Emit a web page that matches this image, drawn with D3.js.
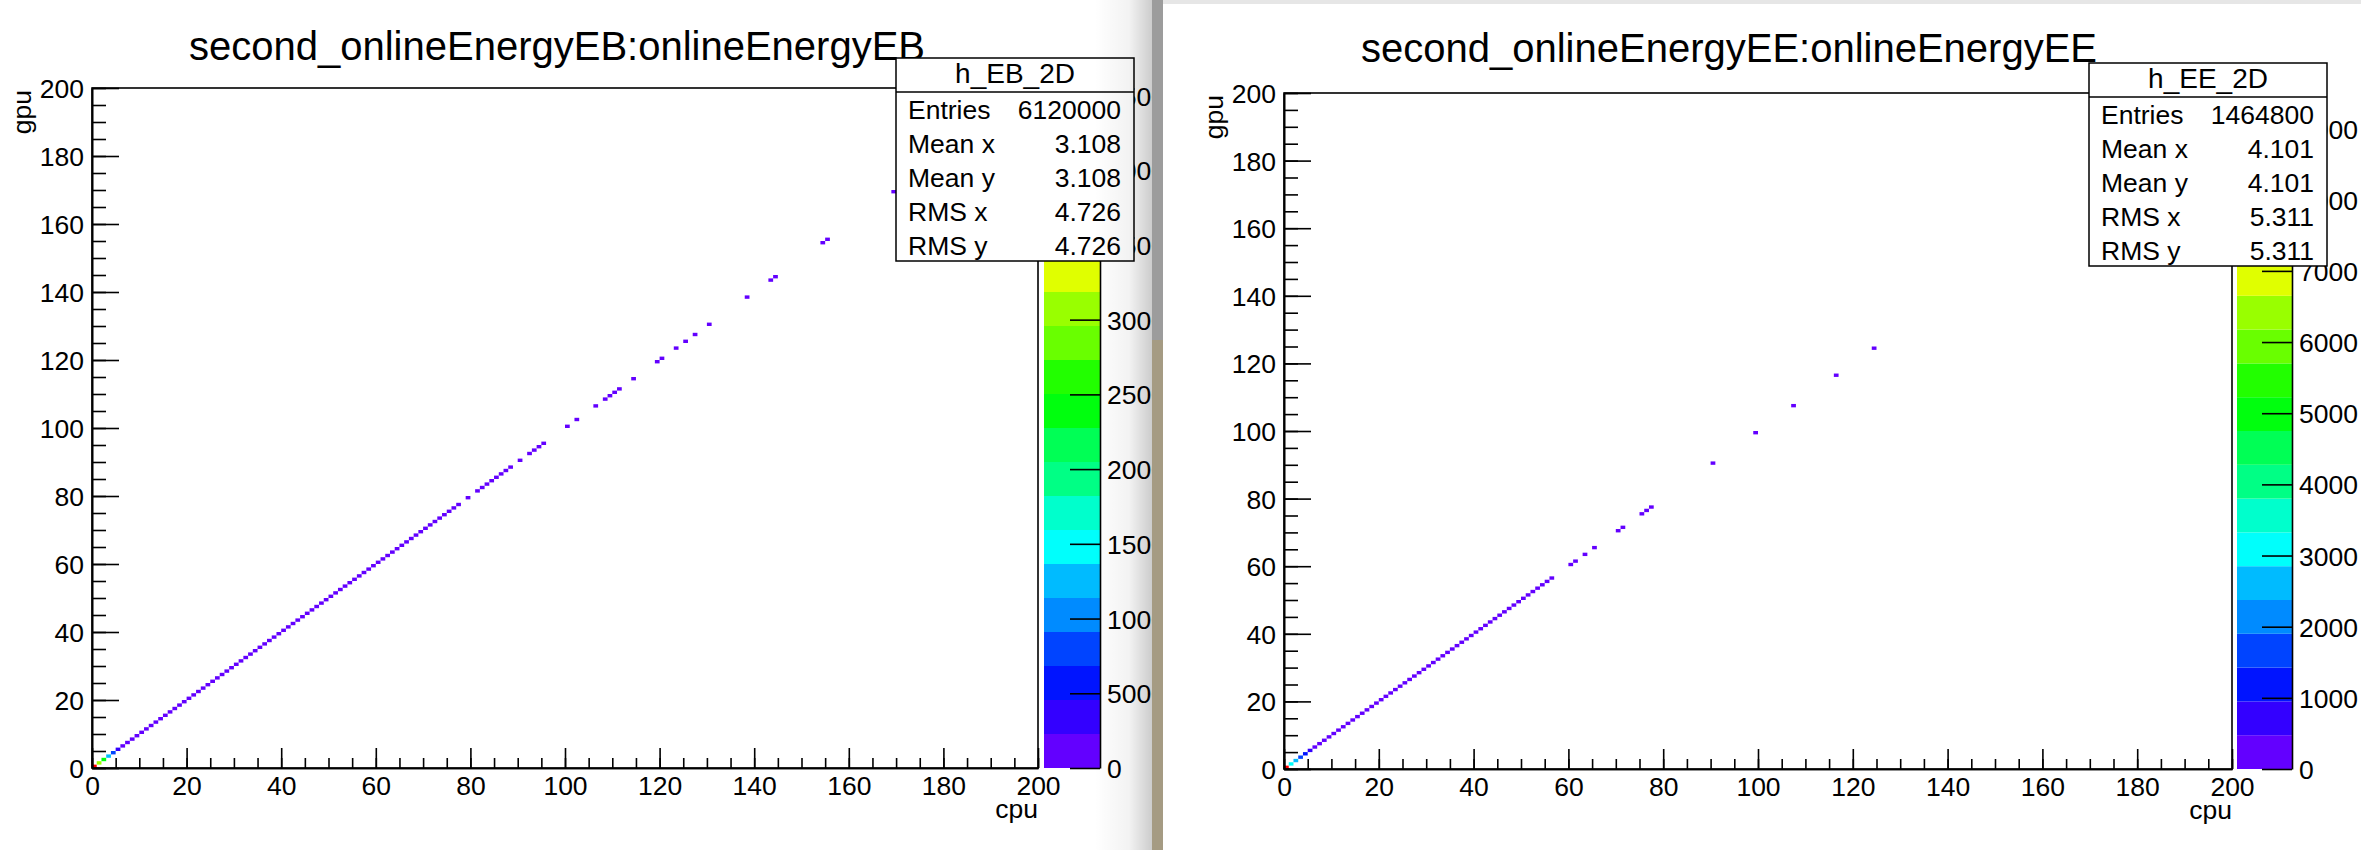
<!DOCTYPE html>
<html>
<head>
<meta charset="utf-8">
<script src="https://cdn.jsdelivr.net/npm/d3@7"></script>
<style>
body { margin: 0; background: #fff; }
text { font-family: "Liberation Sans", Arial, Helvetica, sans-serif; fill: #000; }
</style>
</head>
<body>
<svg id="canvas" width="2361" height="850"></svg>
<script>
// cells on the diagonal (cpu == gpu), lower bin edge, and their contents
const ebBins = [0,1,2,3,4,5,6,7,8,9,10,11,12,13,14,15,16,17,18,19,20,21,22,23,24,25,26,27,28,29,
  30,31,32,33,34,35,36,37,38,39,40,41,42,43,44,45,46,47,48,49,50,51,52,53,54,55,56,57,58,59,
  60,61,62,63,64,65,66,67,68,69,70,71,72,73,74,75,76,77,79,81,82,83,84,85,86,87,88,90,92,93,94,95,
  100,102,106,108,109,110,111,114,119,120,123,125,127,130,138,143,144,154,155,169];
const ebCounts = [45500,30000,24000,12000,7000,3000,
  1900,1600,1400,1200,1050,950,850,760,690,620,560,510,470,430,400,
  370,340,320,300,280,260,245,230,215,200,190,180,170,160,150,142,134,126,119,112,
  106,100,94,89,84,79,75,71,67,63,60,57,54,51,48,45,43,41,39,37,
  35,33,31,29,27,25,24,22,21,20,19,18,
  17,16,15,14,13,11,10,9,9,8,8,7,7,6,5,5,4,4,4,
  3,3,3,2,2,2,2,2,1,1,1,1,1,1,1,1,1,1,1,1];

const eeBins = [0,1,2,3,4,5,6,7,8,9,10,11,12,13,14,15,16,17,18,19,20,21,22,23,24,25,26,27,28,29,
  30,31,32,33,34,35,36,37,38,39,40,41,42,43,44,45,46,47,48,49,50,51,52,53,54,55,56,
  60,61,63,65,70,71,75,76,77,90,99,107,116,124];
const eeCounts = [9500,3300,2600,1800,1100,700,
  440,400,360,330,300,270,245,220,200,180,165,150,137,125,114,
  104,95,87,80,73,67,61,56,51,47,43,39,36,33,30,28,26,24,22,20,
  18,17,16,15,14,13,12,11,10,9,8,7,7,6,6,5,
  4,4,3,3,2,2,2,2,2,1,1,1,1,1];

const statLabels = ["Entries", "Mean x", "Mean y", "RMS x", "RMS y"];
const ebStats = ["6120000", "3.108", "3.108", "4.726", "4.726"];
const eeStats = ["1464800", "4.101", "4.101", "5.311", "5.311"];

const majorTicks = [0, 20, 40, 60, 80, 100, 120, 140, 160, 180, 200];
const minorTicks = d3.range(0, 201, 5);
const ebZTicks = [0, 5000, 10000, 15000, 20000, 25000, 30000, 35000, 40000, 45000];
const eeZTicks = [0, 1000, 2000, 3000, 4000, 5000, 6000, 7000, 8000, 9000];

// 20 contour colours, violet -> red
const palette = ["#6300ff","#3300ff","#0014ff","#0044ff","#008bff","#00bbff","#00fffc","#00ffcc",
  "#00ff85","#00ff55","#00ff0e","#22ff00","#69ff00","#99ff00","#e0ff00","#ffee00","#ffa700",
  "#ff7700","#ff3000","#ff0000"];

const svg = d3.select("#canvas");
svg.append("rect").attr("width", 2361).attr("height", 850).attr("fill", "#fff");

const defs = svg.append("defs");
defs.append("clipPath").attr("id", "leftWin")
  .append("rect").attr("x", 0).attr("y", 0).attr("width", 1152).attr("height", 850);
const grad = defs.append("linearGradient").attr("id", "shade")
  .attr("x1", 0).attr("x2", 1).attr("y1", 0).attr("y2", 0);
grad.append("stop").attr("offset", 0).attr("stop-color", "#000").attr("stop-opacity", 0);
grad.append("stop").attr("offset", 0.6).attr("stop-color", "#000").attr("stop-opacity", 0.05);
grad.append("stop").attr("offset", 1).attr("stop-color", "#000").attr("stop-opacity", 0.2);

function drawPanel(p) {
  const g = svg.append("g");
  if (p.clip) g.attr("clip-path", "url(#" + p.clip + ")");

  const x = d3.scaleLinear().domain([0, 200]).range([p.left, p.right]);
  const y = d3.scaleLinear().domain([0, 200]).range([p.bottom, p.top]);
  const z = d3.scaleQuantize().domain([0, p.zmax]).range(palette);

  // cells
  const cells = p.bins.map((b, i) => ({ b: b, c: p.counts[i] }));
  g.append("g").selectAll("rect")
    .data(cells)
    .enter()
    .append("rect")
    .attr("x", d => x(d.b))
    .attr("y", d => y(d.b + 1))
    .attr("width", d => x(d.b + 1) - x(d.b))
    .attr("height", d => y(d.b) - y(d.b + 1))
    .attr("fill", d => z(d.c));

  // frame
  g.append("rect")
    .attr("x", p.left).attr("y", p.top)
    .attr("width", p.right - p.left).attr("height", p.bottom - p.top)
    .attr("fill", "none").attr("stroke", "#000").attr("stroke-width", 1.6);

  // x axis, ticks pointing into the frame
  g.append("g").attr("transform", `translate(0,${p.bottom})`)
    .call(d3.axisBottom(x).tickValues(minorTicks).tickSize(-10).tickSizeOuter(0).tickFormat(""));
  const xa = g.append("g").attr("transform", `translate(0,${p.bottom})`)
    .call(d3.axisBottom(x).tickValues(majorTicks).tickSize(-20).tickSizeOuter(0).tickPadding(8));

  // y axis
  g.append("g").attr("transform", `translate(${p.left},0)`)
    .call(d3.axisLeft(y).tickValues(minorTicks).tickSize(-14).tickSizeOuter(0).tickFormat(""));
  const ya = g.append("g").attr("transform", `translate(${p.left},0)`)
    .call(d3.axisLeft(y).tickValues(majorTicks).tickSize(-27).tickSizeOuter(0).tickPadding(8));

  // palette
  const zs = d3.scaleLinear().domain([0, p.zmax]).range([p.bottom, p.top]);
  const step = p.zmax / palette.length;
  g.append("g").selectAll("rect")
    .data(palette)
    .enter()
    .append("rect")
    .attr("x", p.palLeft)
    .attr("y", (c, i) => zs((i + 1) * step))
    .attr("width", p.palRight - p.palLeft)
    .attr("height", (c, i) => zs(i * step) - zs((i + 1) * step))
    .attr("fill", c => c);
  const za = g.append("g").attr("transform", `translate(${p.palRight},0)`)
    .call(d3.axisRight(zs).tickValues(p.zTicks).tickSize(-30).tickSizeOuter(0).tickPadding(7)
      .tickFormat(d3.format("d")));

  [xa, ya, za].forEach(a => a.selectAll("text").attr("font-size", 26.5)
    .attr("font-family", "'Liberation Sans', Arial, sans-serif").attr("fill", "#000"));
  g.selectAll(".domain, .tick line").attr("stroke", "#000").attr("stroke-width", 1.6);
  xa.selectAll("text").attr("dy", "0.72em");
  ya.selectAll("text").attr("dy", "0.36em");
  za.selectAll("text").attr("dy", "0.36em");

  // axis titles
  g.append("text")
    .attr("x", p.right).attr("y", p.bottom + 50)
    .attr("text-anchor", "end").attr("font-size", 26.5)
    .text("cpu");
  g.append("text")
    .attr("transform", `translate(${p.left - 61},${p.top + 2}) rotate(-90)`)
    .attr("text-anchor", "end").attr("font-size", 26.5)
    .text("gpu");

  // title
  g.append("text")
    .attr("x", p.titleX).attr("y", p.titleY)
    .attr("text-anchor", "middle").attr("font-size", 40)
    .text(p.title);

  // stats box
  const s = g.append("g").attr("transform", `translate(${p.boxX},${p.boxY})`);
  s.append("rect").attr("width", 238).attr("height", 203)
    .attr("fill", "#fff").attr("stroke", "#000").attr("stroke-width", 1.5);
  s.append("line").attr("x1", 0).attr("x2", 238).attr("y1", 34).attr("y2", 34)
    .attr("stroke", "#000").attr("stroke-width", 1.5);
  s.append("text").attr("x", 119).attr("y", 15).attr("dy", "0.36em")
    .attr("text-anchor", "middle").attr("font-size", 28).text(p.name);
  s.selectAll("text.lab").data(statLabels).enter().append("text")
    .attr("class", "lab")
    .attr("x", 12).attr("y", (d, i) => 51 + i * 34).attr("dy", "0.36em")
    .attr("font-size", 26.5).text(d => d);
  s.selectAll("text.val").data(p.stats).enter().append("text")
    .attr("class", "val")
    .attr("x", 225).attr("y", (d, i) => 51 + i * 34).attr("dy", "0.36em")
    .attr("text-anchor", "end").attr("font-size", 26.5).text(d => d);
}

drawPanel({
  clip: "leftWin",
  left: 92, right: 1038, top: 88, bottom: 768,
  palLeft: 1044, palRight: 1100,
  zmax: 45500, zTicks: ebZTicks,
  bins: ebBins, counts: ebCounts,
  title: "second_onlineEnergyEB:onlineEnergyEB", titleX: 557, titleY: 60,
  name: "h_EB_2D", stats: ebStats, boxX: 896, boxY: 58
});

// window edge between the two screenshots
svg.append("rect").attr("x", 1095).attr("y", 0).attr("width", 57).attr("height", 850).attr("fill", "url(#shade)");
svg.append("rect").attr("x", 1152).attr("y", 0).attr("width", 11).attr("height", 340).attr("fill", "#9c9c9c");
svg.append("rect").attr("x", 1152).attr("y", 340).attr("width", 11).attr("height", 510).attr("fill", "#a59b83");
svg.append("rect").attr("x", 1163).attr("y", 0).attr("width", 1198).attr("height", 4).attr("fill", "#e6e6e6");

drawPanel({
  clip: null,
  left: 1284, right: 2232, top: 93, bottom: 769,
  palLeft: 2237, palRight: 2292,
  zmax: 9500, zTicks: eeZTicks,
  bins: eeBins, counts: eeCounts,
  title: "second_onlineEnergyEE:onlineEnergyEE", titleX: 1729, titleY: 62,
  name: "h_EE_2D", stats: eeStats, boxX: 2089, boxY: 63
});
</script>
</body>
</html>
